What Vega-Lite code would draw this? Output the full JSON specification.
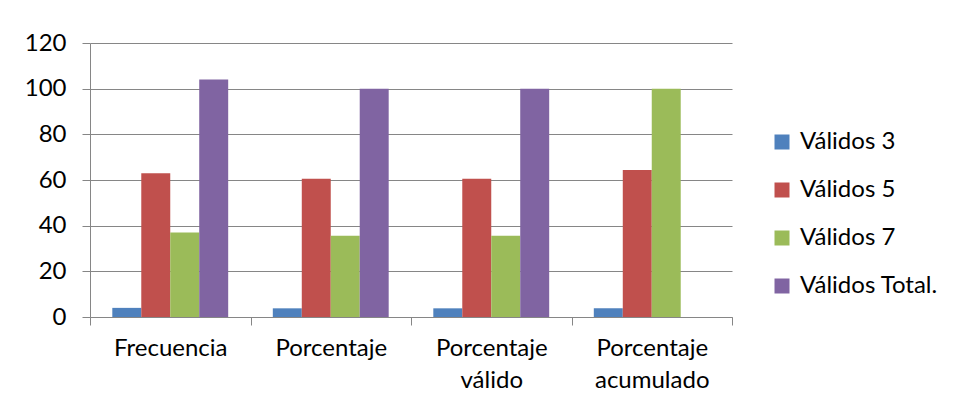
{
  "$schema": "https://vega.github.io/schema/vega-lite/v6.json",
  "autosize": "none",
  "width": 642,
  "height": 274,
  "padding": {"left": 90, "top": 43, "right": 221, "bottom": 91},
  "background": "white",
  "config": {
    "font": "Lato",
    "view": {"stroke": null}
  },
  "data": {
    "values": [
      {"categoria": "Frecuencia", "serie": "Válidos 3", "valor": 4},
      {"categoria": "Frecuencia", "serie": "Válidos 5", "valor": 63},
      {"categoria": "Frecuencia", "serie": "Válidos 7", "valor": 37},
      {"categoria": "Frecuencia", "serie": "Válidos Total.", "valor": 104},
      {"categoria": "Porcentaje", "serie": "Válidos 3", "valor": 3.8},
      {"categoria": "Porcentaje", "serie": "Válidos 5", "valor": 60.6},
      {"categoria": "Porcentaje", "serie": "Válidos 7", "valor": 35.6},
      {"categoria": "Porcentaje", "serie": "Válidos Total.", "valor": 100},
      {"categoria": "Porcentaje válido", "serie": "Válidos 3", "valor": 3.8},
      {"categoria": "Porcentaje válido", "serie": "Válidos 5", "valor": 60.6},
      {"categoria": "Porcentaje válido", "serie": "Válidos 7", "valor": 35.6},
      {"categoria": "Porcentaje válido", "serie": "Válidos Total.", "valor": 100},
      {"categoria": "Porcentaje acumulado", "serie": "Válidos 3", "valor": 3.8},
      {"categoria": "Porcentaje acumulado", "serie": "Válidos 5", "valor": 64.4},
      {"categoria": "Porcentaje acumulado", "serie": "Válidos 7", "valor": 100}
    ]
  },
  "mark": {"type": "bar"},
  "encoding": {
    "x": {
      "field": "categoria",
      "type": "nominal",
      "sort": ["Frecuencia", "Porcentaje", "Porcentaje válido", "Porcentaje acumulado"],
      "scale": {"paddingInner": 0, "paddingOuter": 0},
      "axis": {
        "title": null,
        "labelAngle": 0,
        "labelFontSize": 24,
        "labelColor": "#000000",
        "labelPadding": 11,
        "labelLineHeight": 32,
        "labelBaseline": "top",
        "labelExpr": "split(datum.label, ' ')",
        "tickBand": "extent",
        "tickSize": 8,
        "tickColor": "#868686",
        "domainColor": "#868686",
        "grid": false
      }
    },
    "xOffset": {
      "field": "serie",
      "type": "nominal",
      "sort": ["Válidos 3", "Válidos 5", "Válidos 7", "Válidos Total."],
      "scale": {"domain": ["Válidos 3", "Válidos 5", "Válidos 7", "Válidos Total."], "paddingInner": 0, "paddingOuter": 0.77}
    },
    "y": {
      "field": "valor",
      "type": "quantitative",
      "scale": {"domain": [0, 120], "nice": false},
      "axis": {
        "title": null,
        "values": [0, 20, 40, 60, 80, 100, 120],
        "labelFontSize": 24,
        "labelColor": "#000000",
        "labelPadding": 16,
        "tickSize": 8,
        "tickColor": "#868686",
        "domainColor": "#868686",
        "gridColor": "#868686",
        "gridWidth": 1
      }
    },
    "color": {
      "field": "serie",
      "type": "nominal",
      "sort": ["Válidos 3", "Válidos 5", "Válidos 7", "Válidos Total."],
      "scale": {
        "domain": ["Válidos 3", "Válidos 5", "Válidos 7", "Válidos Total."],
        "range": ["#4F81BD", "#C0504D", "#9BBB59", "#8064A2"]
      },
      "legend": {
        "title": null,
        "orient": "none",
        "legendX": 680,
        "legendY": 87,
        "padding": 0,
        "symbolType": "square",
        "symbolSize": 225,
        "symbolStrokeWidth": 0,
        "labelFontSize": 24,
        "labelColor": "#000000",
        "labelOffset": 6,
        "rowPadding": 24,
        "labelLimit": 300
      }
    }
  }
}
